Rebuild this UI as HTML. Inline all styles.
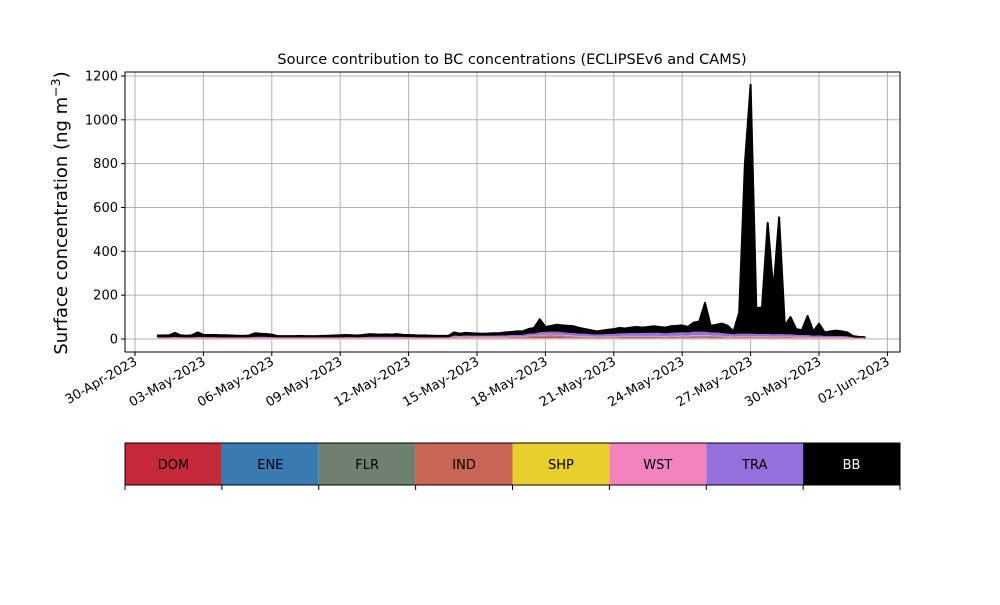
<!DOCTYPE html>
<html><head><meta charset="utf-8"><style>
body{margin:0;background:#fff}
svg text{font-family:"DejaVu Sans","Liberation Sans",sans-serif}
</style></head><body>
<svg id="chart" width="1000" height="600" viewBox="0 0 1000 600" xmlns="http://www.w3.org/2000/svg">
<rect width="1000" height="600" fill="#fff"/>
<text x="512" y="64" font-size="14.5" text-anchor="middle">Source contribution to BC concentrations (ECLIPSEv6 and CAMS)</text>
<text transform="translate(67,213) rotate(-90)" font-size="18" text-anchor="middle">Surface concentration (ng m<tspan dy="-7" font-size="12.5">−3</tspan><tspan dy="7">)</tspan></text>
<g id="grid"></g>
<g id="areas"></g>
<g id="axes"></g>
<g id="cbar"></g>
</svg>
<script>
const sources=["DOM","ENE","FLR","IND","SHP","WST","TRA","BB"];
const colors=["#c52a3a","#3a7ab3","#6e8070","#c96555","#e8cf2e","#f283bf","#9470dc","#000000"];
const startDay=1; // 1-May-2023, 6-hourly steps
const total=[16,16,17,28,17,15,17,30,19,18,18,17,17,16,15,14,16,26,24,23,20,13,12,12,
13,14,13,12,13,14,15,16,17,18,17,16,18,22,21,20,21,20,22,19,18,17,16,16,15,14,14,15,
30,24,28,26,25,24,25,26,27,30,32,35,35,45,50,90,55,60,65,62,60,58,50,45,40,35,38,42,
45,50,48,52,55,52,55,58,55,52,58,60,62,55,75,80,165,60,65,70,60,35,120,800,1160,
140,145,530,220,555,60,100,45,40,105,35,70,30,35,38,35,30,12,10,8];
const dom=[2,2,2,3,2,2,2,3,2,2,2,2,2,2,2,2,2,3,3,3,2,2,2,2,2,2,2,2,2,2,2,2,2,2,2,2,2,3,3,3,3,3,3,3,2,2,2,2,2,2,2,2,
5,4,5,4,4,4,4,4,4,4,5,5,6,8,9,10,10,11,10,9,8,8,7,7,6,5,5,6,6,7,7,7,7,7,7,7,7,6,7,7,8,7,8,8,8,7,7,7,6,5,6,6,6,
6,6,6,5,6,5,5,4,4,4,3,4,3,3,3,3,3,2,1,1];
const ene=[1,1,1,1,1,1,1,1,1,1,1,1,1,1,1,1,1,1,1,1,1,1,1,1,1,1,1,1,1,1,1,1,1,1,1,1,1,1,1,1,1,1,1,1,1,1,1,1,1,1,1,1,
1,1,1,1,1,1,1,1,1,1,1,1,1,2,2,2,2,2,2,2,2,2,1,1,1,1,1,1,1,2,2,2,2,2,2,2,2,2,2,2,2,2,2,2,2,2,2,2,1,1,1,1,1,
1,1,1,1,1,1,1,1,1,1,1,1,1,1,1,1,1,1,0,0];
const flr=[1,1,1,1,1,1,1,1,1,1,1,1,1,1,1,1,1,1,1,1,1,1,1,1,1,1,1,1,1,1,1,1,1,1,1,1,1,1,1,1,1,1,1,1,1,1,1,1,1,1,1,1,
1,1,1,1,1,1,1,1,1,1,1,1,1,1,1,2,2,2,2,2,2,1,1,1,1,1,1,1,1,1,1,1,1,1,1,1,1,1,1,1,1,1,2,2,2,2,2,1,1,1,1,1,1,
1,1,1,1,1,1,1,1,1,1,1,1,1,1,1,1,1,1,0,0];
const ind=[1,1,1,1,1,1,1,1,1,1,1,1,1,1,1,1,1,1,1,1,1,1,1,1,1,1,1,1,1,1,1,1,1,1,1,1,1,1,1,1,1,1,1,1,1,1,1,1,1,1,1,1,
2,2,2,2,2,2,2,2,2,2,2,2,2,2,2,3,3,3,3,3,2,2,2,2,2,2,2,2,2,2,2,2,2,2,2,2,2,2,2,2,2,2,3,3,3,2,2,2,2,2,2,2,2,
2,2,2,2,2,2,2,2,2,2,1,1,1,1,1,1,1,1,1,1];
const shp=[0,0,0,0,0,0,0,0,0,0,0,0,0,0,0,0,0,0,0,0,0,0,0,0,0,0,0,0,0,0,0,0,0,0,0,0,0,0,0,0,0,0,0,0,0,0,0,0,0,0,0,0,
1,1,1,1,1,1,1,1,1,1,1,1,1,1,1,1,1,1,1,1,1,1,1,1,1,1,1,1,1,1,1,1,1,1,1,1,1,1,1,1,1,1,1,1,1,1,1,1,1,1,1,1,1,
1,1,1,1,1,1,1,1,1,1,1,1,1,1,1,1,1,0,0,0];
const wst=[1,1,1,1,1,1,1,1,1,1,1,1,1,1,1,1,1,1,1,1,1,1,1,1,1,1,1,1,1,1,1,1,1,1,1,1,1,1,1,1,1,1,1,1,1,1,1,1,1,1,1,1,
1,1,1,1,1,1,1,1,1,1,1,1,1,1,1,2,2,2,2,2,2,2,2,2,1,1,1,1,1,1,1,1,1,1,1,1,1,1,1,1,2,2,2,2,2,2,2,1,1,1,1,1,1,
1,1,1,1,1,1,1,1,1,1,1,1,1,1,1,1,1,1,1,1];
const tra=[6,6,6,8,6,6,6,8,7,7,7,6,6,6,6,6,6,8,8,8,7,6,6,6,6,6,6,6,6,6,6,6,6,7,7,6,7,8,8,8,8,8,8,7,7,7,6,6,6,6,6,6,
10,9,10,10,10,10,10,10,11,11,12,12,12,14,14,16,17,18,18,17,16,16,15,15,14,14,15,16,16,17,17,18,18,18,19,19,19,18,19,20,20,19,20,20,20,19,19,18,17,16,17,17,17,
16,16,16,15,16,15,15,14,13,13,12,12,11,11,10,10,9,6,4,3];
const yTicks=[0,200,400,600,800,1000,1200];
const xTickLabels=["30-Apr-2023","03-May-2023","06-May-2023","09-May-2023","12-May-2023","15-May-2023","18-May-2023","21-May-2023","24-May-2023","27-May-2023","30-May-2023","02-Jun-2023"];
const xTickDays=[0,3,6,9,12,15,18,21,24,27,30,33]; // days since 30-Apr

const NS="http://www.w3.org/2000/svg";
const L=125,R=900,T=72,B=352;
const X=d=>135+d*22.8;            // days since 30-Apr
const Y=v=>339-v*0.2192;
function mk(tag,attrs,parent){const e=document.createElementNS(NS,tag);for(const k in attrs)e.setAttribute(k,attrs[k]);parent.appendChild(e);return e;}
const grid=document.getElementById('grid'),axes=document.getElementById('axes'),areas=document.getElementById('areas'),cb=document.getElementById('cbar');

yTicks.forEach(v=>{
  const g=mk('line',{x1:L,x2:R,y1:Y(v),y2:Y(v),stroke:'#b0b0b0','stroke-width':1},grid);
  
  const t=mk('line',{x1:L-4,x2:L,y1:Y(v),y2:Y(v),stroke:'#000'},axes);
  
  const lb=mk('text',{x:L-7,y:Y(v)+4.5,'font-size':13,'text-anchor':'end'},axes);lb.textContent=v;
  
});
xTickDays.forEach((d,i)=>{
  const x=X(d);
  const g=mk('line',{x1:x,x2:x,y1:T,y2:B,stroke:'#b0b0b0','stroke-width':1},grid);
  
  const t=mk('line',{x1:x,x2:x,y1:B,y2:B+4,stroke:'#000'},axes);
  
  const lb=mk('text',{transform:`translate(${x+3},${B+12}) rotate(-30)`,'font-size':13,'text-anchor':'end'},axes);
  lb.textContent=xTickLabels[i];
  
});

// stacking
const comps=[dom,ene,flr,ind,shp,wst,tra];
const n=total.length;
const bb=total.map((v,i)=>{let s=0;comps.forEach(c=>s+=c[i]);return Math.max(1,v-s);});
const series=[dom,ene,flr,ind,shp,wst,tra,bb];
let base=new Array(n).fill(0);
const dayOf=i=>startDay+i/4;
series.forEach((s,k)=>{
  const top=base.map((b,i)=>b+s[i]);
  let d='M'+X(dayOf(0))+','+Y(top[0]);
  for(let i=1;i<n;i++)d+='L'+X(dayOf(i)).toFixed(2)+','+Y(top[i]).toFixed(2);
  for(let i=n-1;i>=0;i--)d+='L'+X(dayOf(i)).toFixed(2)+','+Y(base[i]).toFixed(2);
  d+='Z';
  const p=mk('path',{d:d,fill:colors[k],stroke:k==7?'#000':'none','stroke-width':k==7?2:0,'stroke-linejoin':'round'},areas);
  
  base=top;
});
const bl=mk('line',{x1:X(dayOf(0)),x2:X(dayOf(n-1)),y1:Y(0)-0.5,y2:Y(0)-0.5,stroke:'#e8a0a8','stroke-width':1.5},areas);


const fr=mk('rect',{x:L,y:T,width:R-L,height:B-T,fill:'none',stroke:'#000','stroke-width':1},axes);


// colorbar
const cw=(R-L)/sources.length;
sources.forEach((s,k)=>{
  const r=mk('rect',{x:L+k*cw,y:443,width:cw,height:42,fill:colors[k]},cb);
  
  const t=mk('text',{x:L+k*cw+cw/2,y:469,'font-size':13,'text-anchor':'middle',fill:k==7?'#fff':'#000'},cb);
  t.textContent=s;
});
for(let k=0;k<=sources.length;k++){
  const t=mk('line',{x1:L+k*cw,x2:L+k*cw,y1:485,y2:490,stroke:'#000'},cb);
  
}
const cf=mk('rect',{x:L,y:443,width:R-L,height:42,fill:'none',stroke:'#000'},cb);

</script>
</body></html>
